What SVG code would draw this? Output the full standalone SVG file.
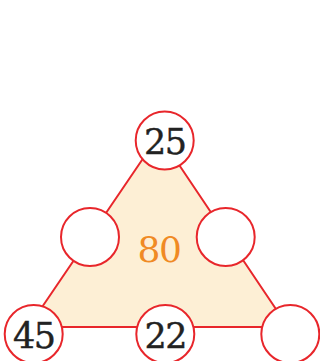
<svg xmlns="http://www.w3.org/2000/svg" width="320" height="361" viewBox="0 0 320 361">
<style>
.edge{fill:#fdefd5;stroke:#e8262b;stroke-width:2;stroke-linejoin:round}
.node circle{fill:#fff;stroke:#e8262b;stroke-width:2}
.num{font-family:"DejaVu Serif","Liberation Serif",serif;font-size:35px;fill:#222;stroke:#222;stroke-width:0.4;text-anchor:middle;letter-spacing:-1.5px}
.sum{font-family:"DejaVu Serif","Liberation Serif",serif;font-size:36px;fill:#f08a24;text-anchor:middle;letter-spacing:-1.5px}
</style>
<rect width="320" height="361" fill="#fff"/>
<g id="connectors">
<polygon class="edge" points="159,135 28.5,327 288,327"/>
</g>
<text class="sum" x="159" y="262">80</text>
<g id="node-top" class="node"><circle cx="164.7" cy="140.5" r="29"/><text class="num" x="164.7" y="154">25</text></g>
<g id="node-midleft" class="node"><circle cx="90" cy="237" r="29"/></g>
<g id="node-midright" class="node"><circle cx="225.7" cy="237" r="29"/></g>
<g id="node-botleft" class="node"><circle cx="33.7" cy="334" r="29"/><text class="num" x="33.7" y="348">45</text></g>
<g id="node-botmid" class="node"><circle cx="165.3" cy="334" r="29"/><text class="num" x="165.3" y="348">22</text></g>
<g id="node-botright" class="node"><circle cx="290.3" cy="334" r="29"/></g>
</svg>
